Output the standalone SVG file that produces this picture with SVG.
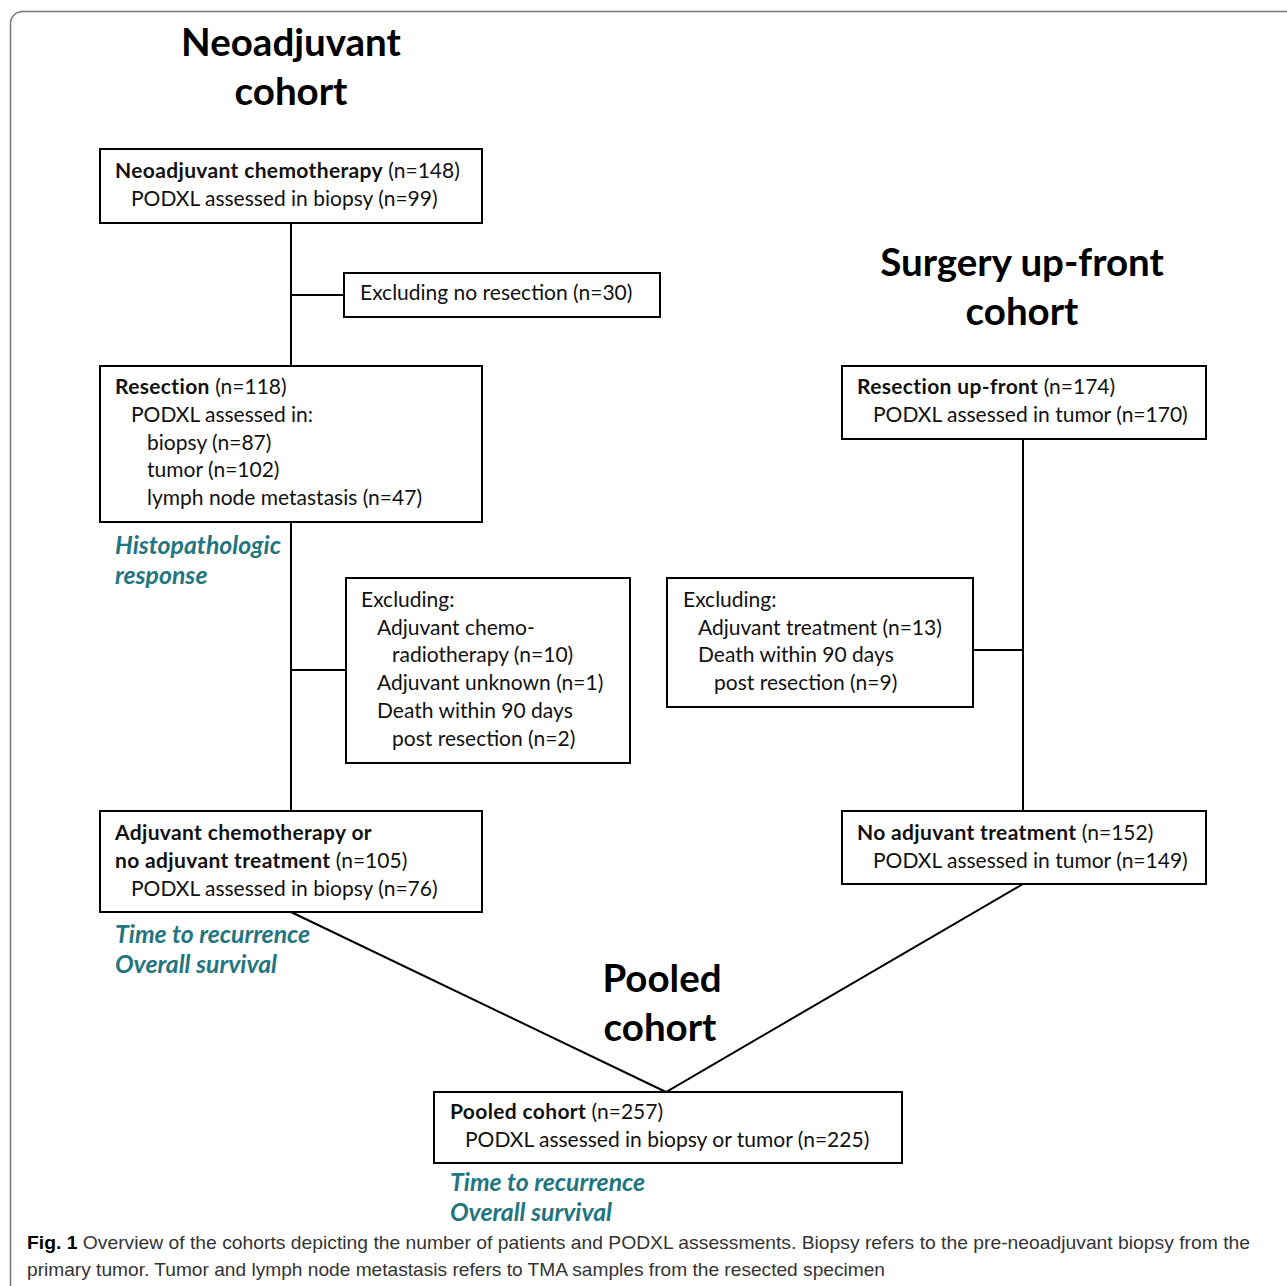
<svg xmlns="http://www.w3.org/2000/svg" width="1287" height="1286" viewBox="0 0 1287 1286">
<style>
.t{font-family:Lato,"Noto Sans",sans-serif;font-size:21px;fill:#111}
.b{font-weight:bold;letter-spacing:0.35px}
.h{font-family:Lato,"Noto Sans",sans-serif;font-size:38.5px;font-weight:bold;fill:#000;text-anchor:middle}
.o{font-family:Lato,"Noto Sans",sans-serif;font-size:24.8px;font-weight:bold;font-style:italic;fill:#1f7680}
.box{fill:#fff;stroke:#000;stroke-width:2}
.c{fill:none;stroke:#000;stroke-width:2}
.cap{font-family:"Liberation Sans",sans-serif;font-size:19px;fill:#333}
</style>
<rect x="10.5" y="11.5" width="1300" height="1300" rx="12" fill="#fff" stroke="#777" stroke-width="1.5"/>
<text class="h" x="291" y="56">Neoadjuvant</text>
<text class="h" x="291" y="105">cohort</text>
<text class="h" x="1022" y="276">Surgery up-front</text>
<text class="h" x="1022" y="325">cohort</text>
<text class="h" x="662" y="992">Pooled</text>
<text class="h" x="660" y="1041">cohort</text>
<g id="connectors">
<path class="c" d="M291 223V811M291 295H344M291 670H346M1023 439V811M973 650H1023M291 912L666 1092L1023 884"/>
</g>
<g id="n1"><rect class="box" x="100" y="149" width="382" height="74"/>
<text class="t" x="115" y="178"><tspan class="b">Neoadjuvant chemotherapy</tspan> (n=148)</text>
<text class="t" x="131" y="206">PODXL assessed in biopsy (n=99)</text></g>
<g id="n2"><rect class="box" x="344" y="273" width="316" height="44"/>
<text class="t" x="360" y="300">Excluding no resection (n=30)</text></g>
<g id="n3"><rect class="box" x="100" y="366" width="382" height="156"/>
<text class="t" x="115" y="394"><tspan class="b">Resection</tspan> (n=118)</text>
<text class="t" x="131" y="422">PODXL assessed in:</text>
<text class="t" x="147" y="450">biopsy (n=87)</text>
<text class="t" x="147" y="477">tumor (n=102)</text>
<text class="t" x="147" y="505">lymph node metastasis (n=47)</text></g>
<g id="o1"><text class="o" x="115" y="554">Histopathologic</text>
<text class="o" x="115" y="584">response</text></g>
<g id="n4"><rect class="box" x="346" y="578" width="284" height="185"/>
<text class="t" x="361" y="607">Excluding:</text>
<text class="t" x="377" y="635">Adjuvant chemo-</text>
<text class="t" x="392" y="662">radiotherapy (n=10)</text>
<text class="t" x="377" y="690">Adjuvant unknown (n=1)</text>
<text class="t" x="377" y="718">Death within 90 days</text>
<text class="t" x="392" y="746">post resection (n=2)</text></g>
<g id="n5"><rect class="box" x="100" y="811" width="382" height="101"/>
<text class="t" x="115" y="840"><tspan class="b">Adjuvant chemotherapy or</tspan></text>
<text class="t" x="115" y="868"><tspan class="b">no adjuvant treatment</tspan> (n=105)</text>
<text class="t" x="131" y="896">PODXL assessed in biopsy (n=76)</text></g>
<g id="o2"><text class="o" x="115" y="943">Time to recurrence</text>
<text class="o" x="115" y="973">Overall survival</text></g>
<g id="n6"><rect class="box" x="842" y="366" width="364" height="73"/>
<text class="t" x="857" y="394"><tspan class="b">Resection up-front</tspan> (n=174)</text>
<text class="t" x="873" y="422">PODXL assessed in tumor (n=170)</text></g>
<g id="n7"><rect class="box" x="667" y="578" width="306" height="129"/>
<text class="t" x="683" y="607">Excluding:</text>
<text class="t" x="698" y="635">Adjuvant treatment (n=13)</text>
<text class="t" x="698" y="662">Death within 90 days</text>
<text class="t" x="714" y="690">post resection (n=9)</text></g>
<g id="n8"><rect class="box" x="842" y="811" width="364" height="73"/>
<text class="t" x="857" y="840"><tspan class="b">No adjuvant treatment</tspan> (n=152)</text>
<text class="t" x="873" y="868">PODXL assessed in tumor (n=149)</text></g>
<g id="n9"><rect class="box" x="434" y="1092" width="468" height="71"/>
<text class="t" x="450" y="1119"><tspan class="b">Pooled cohort</tspan> (n=257)</text>
<text class="t" x="465" y="1147">PODXL assessed in biopsy or tumor (n=225)</text></g>
<g id="o3"><text class="o" x="450" y="1191">Time to recurrence</text>
<text class="o" x="450" y="1221">Overall survival</text></g>
<text class="cap" x="27" y="1249" textLength="1223" lengthAdjust="spacingAndGlyphs"><tspan font-weight="bold" fill="#000">Fig. 1</tspan>  Overview of the cohorts depicting the number of patients and PODXL assessments. Biopsy refers to the pre-neoadjuvant biopsy from the</text>
<text class="cap" x="27" y="1276" textLength="858" lengthAdjust="spacingAndGlyphs">primary tumor. Tumor and lymph node metastasis refers to TMA samples from the resected specimen</text>
</svg>
